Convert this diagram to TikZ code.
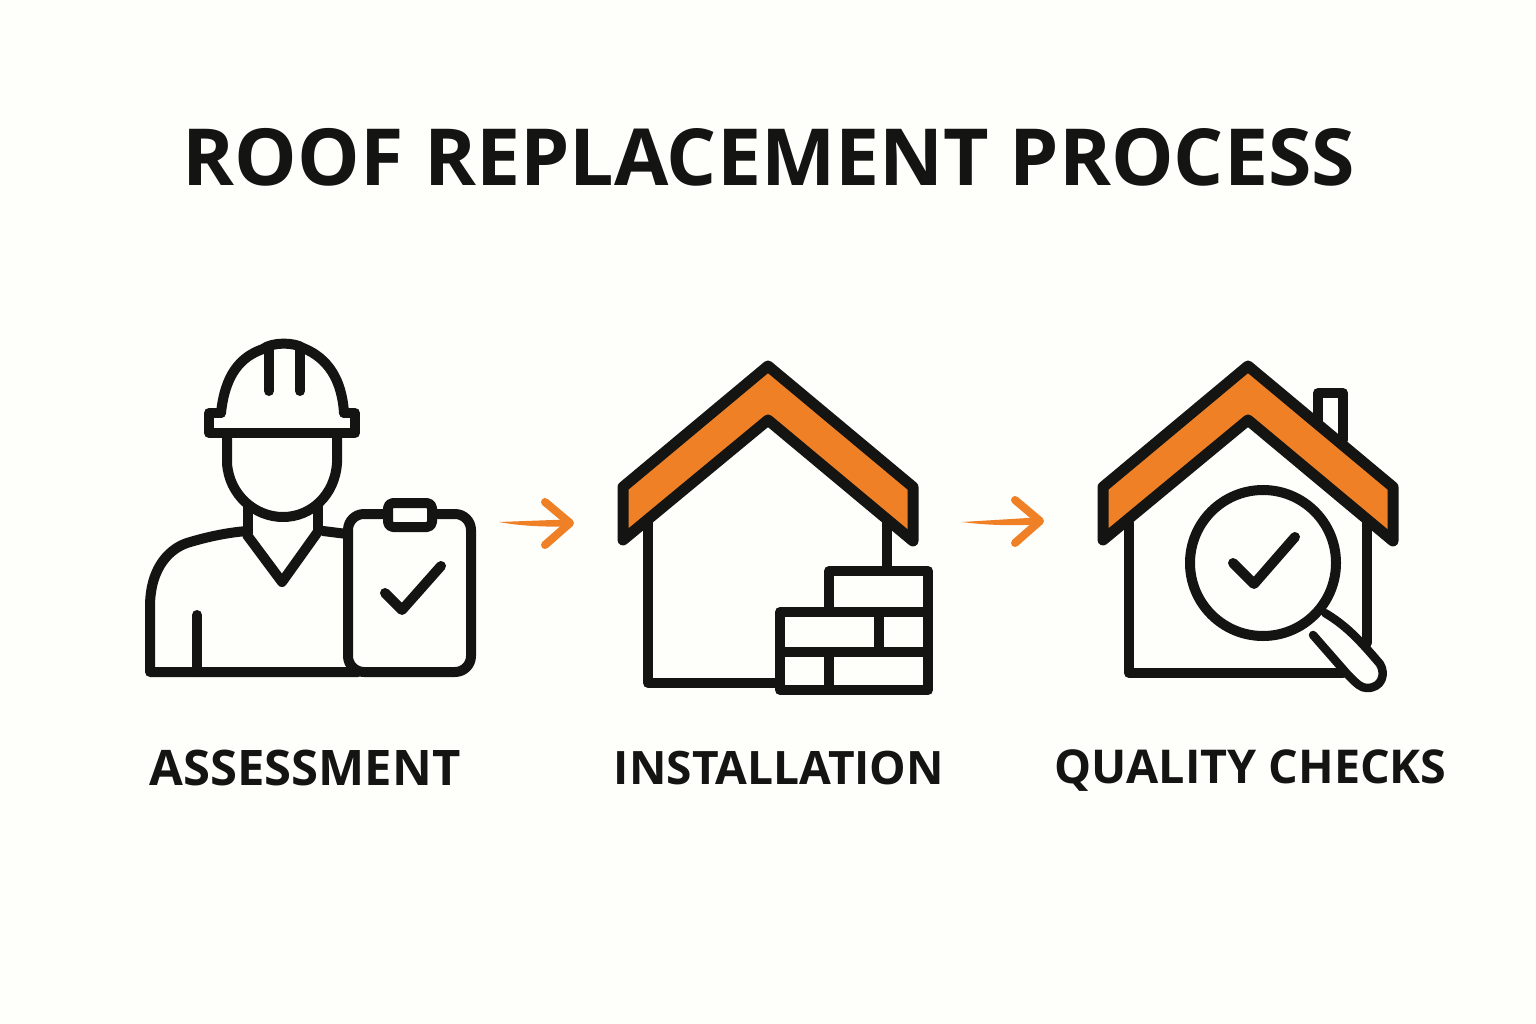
\documentclass[tikz,border=0pt]{standalone}
\usepackage{graphicx}
\usepackage{fontspec}
\setmainfont{Open Sans}
\usetikzlibrary{calc}
\definecolor{paper}{HTML}{FEFEFB}
\definecolor{ink}{HTML}{141412}
\definecolor{roof}{HTML}{F08025}
\tikzset{
  icon/.style={draw=ink,line width=10pt,line join=round,line cap=round},
  roofshape/.style={icon,fill=roof,line width=11pt},
  arrowhead/.style={draw=roof,line width=8pt,line cap=round,line join=round},
  arrowshaft/.style={fill=roof,draw=none},
  titletext/.style={text=ink,inner sep=0pt,anchor=center,font=\bfseries\fontsize{80}{80}\selectfont},
  labeltext/.style={text=ink,inner sep=0pt,anchor=center,font=\bfseries\fontsize{50}{50}\selectfont},
}
\begin{document}
\begin{tikzpicture}[x=1pt,y=-1pt]
\path[fill=paper] (0,0) rectangle (1536,1024);
\useasboundingbox (0,0) rectangle (1536,1024);

\node[titletext] (title) at (769,157) {\resizebox{1172pt}{!}{ROOF REPLACEMENT PROCESS}};
\node[labeltext] (lab1) at (305,768) {\resizebox{311pt}{!}{ASSESSMENT}};
\node[labeltext] (lab2) at (779,768) {\resizebox{330pt}{!}{INSTALLATION}};
\node[labeltext] (lab3) at (1250.5,770.5) {\resizebox{392pt}{!}{QUALITY CHECKS}};

% --- Worker
\draw[icon] (221,413) .. controls (225,375) and (240,357) .. (263,349)
  .. controls (272,342) and (294,342) .. (303,348)
  .. controls (328,358) and (342,380) .. (344,413);
\draw[icon] (221,413) -- (209,413) -- (209,433) -- (355,433) -- (355,413) -- (344,413);
\draw[icon] (269,350) -- (269,391);
\draw[icon] (300,350) -- (300,391);
\draw[icon] (227,433) -- (227,463) .. controls (229,495) and (255,517) .. (283,517)
  .. controls (311,517) and (335,495) .. (337,463) -- (337,433);
\draw[icon] (248,507) -- (248,533);
\draw[icon] (318,507) -- (318,531);
\draw[icon] (247,535) -- (282,582) -- (317,533);
\draw[icon] (247,531) .. controls (222,533) and (200,539) .. (187,543)
  .. controls (172,548) and (150,565) .. (150,607) -- (150,672) -- (358,672);
\draw[icon] (323,531) -- (347,534);
\draw[icon] (197,615) -- (197,672);
% clipboard
\draw[icon,rounded corners=16pt] (388,514) -- (348,514) -- (348,672) -- (471,672) -- (471,514) -- (432,514);
\draw[icon,rounded corners=5pt] (388,503) rectangle (432,527);
\draw[icon] (385,593) -- (402,610) -- (441,566);

% --- House with bricks
\draw[icon] (648,523) -- (648,683) -- (780,683);
\draw[icon] (887,523) -- (887,571);
\draw[roofshape] (768,366) -- (623,487) -- (623,540) -- (768,420) -- (913,541) -- (913,487) -- cycle;
\draw[icon] (829,612) -- (829,571) -- (928,571) -- (928,690) -- (780,690) -- (780,612) -- cycle;
\draw[icon] (780,652) -- (928,652);
\draw[icon] (879,612) -- (879,652);
\draw[icon] (829,652) -- (829,690);
\draw[icon] (829,612) -- (928,612);

% --- House with magnifier
\draw[icon] (1318,422) -- (1318,393) -- (1343,393) -- (1343,440);
\draw[icon] (1129,523) -- (1129,673) -- (1343,673);
\draw[icon] (1367,523) -- (1367,643);
\draw[roofshape] (1248,366) -- (1103,487) -- (1103,540) -- (1248,420) -- (1393,541) -- (1393,487) -- cycle;
\draw[icon] (1263,563) circle (73);
\draw[icon] (1233,563) -- (1254,584) -- (1295,537);
\draw[icon,line width=8.5pt,fill=paper] (1325,613) .. controls (1345,625) and (1358,638) .. (1380,664)
  .. controls (1386,674) and (1382,688) .. (1367,688)
  .. controls (1361,688) and (1357,684) .. (1348,675) -- (1313,635);

% --- Connectors
\coordinate (a1s) at (499,522);
\coordinate (a1e) at (570,523);
\coordinate (a2s) at (962,522);
\coordinate (a2e) at (1040,521);
\fill[arrowshaft] (a1s) -- ($(a1e)+(-4,-3.5)$) -- ($(a1e)+(-4,3.5)$) .. controls (545,527) and (520,526) .. (a1s) -- cycle;
\draw[arrowhead] ($(a1e)+(-25,-21)$) -- (a1e) -- ($(a1e)+(-25,22)$);
\fill[arrowshaft] (a2s) -- ($(a2e)+(-4,-3.5)$) -- ($(a2e)+(-4,3.5)$) .. controls (1010,526) and (985,525) .. (a2s) -- cycle;
\draw[arrowhead] ($(a2e)+(-25,-21)$) -- (a2e) -- ($(a2e)+(-25,22)$);
\end{tikzpicture}
\end{document}
